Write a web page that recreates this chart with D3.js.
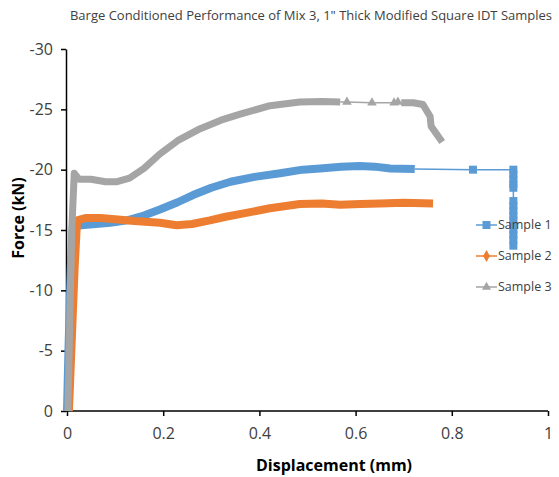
<!DOCTYPE html>
<html>
<head>
<meta charset="utf-8">
<script src="https://cdn.jsdelivr.net/npm/d3@7"></script>
<style>
	body { margin: 0; background: #fff; }
	text { font-family: "Open Sans", sans-serif; }
</style>
</head>
<body>
<div id="chart"></div>
<script>
///////////////////////////////////////////////////////////////////////////
//////////////////////////// data /////////////////////////////////////////
///////////////////////////////////////////////////////////////////////////

const title = 'Barge Conditioned Performance of Mix 3, 1" Thick Modified Square IDT Samples';
const seriesNames = ["Sample 1", "Sample 2", "Sample 3"];
const xTicks = [0, 0.2, 0.4, 0.6, 0.8, 1];
const yTicks = [0, -5, -10, -15, -20, -25, -30];

// [displacement mm, force kN]
const sample1Dense = [
	[0, 0], [0.003, -5], [0.008, -12], [0.012, -15.3], [0.03, -15.4], [0.06, -15.5],
	[0.09, -15.6], [0.125, -15.8], [0.16, -16.2], [0.193, -16.7], [0.23, -17.3],
	[0.262, -17.9], [0.3, -18.5], [0.34, -19.0], [0.39, -19.4], [0.443, -19.7],
	[0.49, -20.0], [0.526, -20.1], [0.57, -20.25], [0.609, -20.3], [0.64, -20.25],
	[0.672, -20.1], [0.723, -20.05]
];
const sample1Tail = [
	[0.723, -20.05], [0.844, -20.0], [0.928, -20.0], [0.928, -19.6], [0.928, -19.2],
	[0.928, -18.8], [0.928, -18.5], [0.928, -17.4], [0.928, -17.0], [0.928, -16.6],
	[0.928, -16.2], [0.928, -15.8], [0.928, -15.4], [0.928, -15.0], [0.928, -14.6],
	[0.928, -14.2], [0.928, -13.7]
];

const sample2Dense = [
	[0.004, 0], [0.01, -6], [0.016, -12], [0.021, -15.8], [0.04, -16.0], [0.07, -16.0],
	[0.1, -15.9], [0.14, -15.75], [0.193, -15.6], [0.228, -15.4], [0.26, -15.5],
	[0.297, -15.8], [0.33, -16.1], [0.37, -16.4], [0.422, -16.8], [0.484, -17.15],
	[0.53, -17.2], [0.568, -17.1], [0.61, -17.15], [0.651, -17.2], [0.7, -17.25],
	[0.761, -17.2]
];

const sample3Dense = [
	[0.002, 0], [0.006, -8], [0.01, -15], [0.015, -19.7], [0.025, -19.2], [0.05, -19.2],
	[0.08, -19.0], [0.104, -19.0], [0.13, -19.3], [0.16, -20.1], [0.193, -21.3],
	[0.23, -22.4], [0.277, -23.4], [0.32, -24.1], [0.36, -24.6], [0.422, -25.3],
	[0.484, -25.6], [0.53, -25.65], [0.568, -25.6]
];
const sample3Tail = [
	[0.568, -25.6], [0.582, -25.6], [0.634, -25.55], [0.68, -25.55], [0.688, -25.6],
	[0.695, -25.55]
];
const sample3Drop = [
	[0.695, -25.55], [0.72, -25.55], [0.74, -25.4], [0.755, -24.4], [0.757, -23.6],
	[0.78, -22.3]
];

///////////////////////////////////////////////////////////////////////////
//////////////////////////// drawing //////////////////////////////////////
///////////////////////////////////////////////////////////////////////////

const colors = ["#5B9BD5", "#ED7D31", "#A5A5A5"];

const dimensions = {
	width: 559,
	height: 477,
	margin: { top: 49, right: 11, bottom: 66, left: 66 }
};
dimensions.boundedWidth = dimensions.width - dimensions.margin.left - dimensions.margin.right;
dimensions.boundedHeight = dimensions.height - dimensions.margin.top - dimensions.margin.bottom;

const svg = d3.select("#chart").append("svg")
	.attr("width", dimensions.width)
	.attr("height", dimensions.height);

const bounds = svg.append("g")
	.attr("transform", `translate(${dimensions.margin.left},${dimensions.margin.top})`);

//////////////////////////// scales ///////////////////////////////////////

const xScale = d3.scaleLinear().domain([0, 1]).range([1, dimensions.boundedWidth]);
const yScale = d3.scaleLinear().domain([0, -30]).range([dimensions.boundedHeight, 0]);

const line = d3.line().x((d) => xScale(d[0])).y((d) => yScale(d[1]));

//////////////////////////// axes /////////////////////////////////////////

const xAxis = bounds.append("g")
	.attr("transform", `translate(0,${dimensions.boundedHeight})`)
	.call(d3.axisBottom(xScale).tickValues(xTicks).tickFormat((d) => String(d))
		.tickSizeInner(5).tickSizeOuter(0).tickPadding(12));

const yAxis = bounds.append("g")
	.call(d3.axisLeft(yScale).tickValues(yTicks).tickFormat((d) => String(d))
		.tickSizeInner(5).tickSizeOuter(0).tickPadding(8));

[xAxis, yAxis].forEach((ax) => {
	ax.select(".domain").attr("stroke", "#000").attr("stroke-width", 1.5);
	ax.selectAll(".tick line").attr("stroke", "#000").attr("stroke-width", 1.5);
	ax.selectAll(".tick text")
		.attr("fill", "#404040")
		.style("font-size", "16px")
		.style("font-family", "'Open Sans', sans-serif");
});
xAxis.select(".domain").attr("d", `M0,0H${dimensions.boundedWidth}`);

//////////////////////////// series ///////////////////////////////////////

const denseLine = (data, color, w) => {
	bounds.append("path")
		.datum(data)
		.attr("d", line)
		.attr("fill", "none")
		.attr("stroke", color)
		.attr("stroke-width", w)
		.attr("stroke-linejoin", "round");
};

const thinLine = (data, color) => {
	bounds.append("path")
		.datum(data)
		.attr("d", line)
		.attr("fill", "none")
		.attr("stroke", color)
		.attr("stroke-width", 1.5);
};

const markers = (data, color, type, size) => {
	bounds.append("g").selectAll("path")
		.data(data)
		.join("path")
		.attr("transform", (d) => `translate(${xScale(d[0])},${yScale(d[1])})`)
		.attr("d", d3.symbol().type(type).size(size))
		.attr("fill", color);
};

// sample 1
denseLine(sample1Dense, colors[0], 8);
thinLine(sample1Tail, colors[0]);
markers(sample1Tail.slice(1), colors[0], d3.symbolSquare, 64);

// sample 2
denseLine(sample2Dense, colors[1], 8);

// sample 3
denseLine(sample3Dense, colors[2], 7);
thinLine(sample3Tail, colors[2]);
markers(sample3Tail.slice(1, -1), colors[2], d3.symbolTriangle, 40);
denseLine(sample3Drop, colors[2], 7);

//////////////////////////// legend ///////////////////////////////////////

const legendSymbols = [d3.symbolSquare, d3.symbolDiamond, d3.symbolTriangle];
const legendSizes = [64, 40, 36];
const legend = svg.append("g").attr("transform", "translate(476,225)");

seriesNames.forEach((name, i) => {
	const g = legend.append("g").attr("transform", `translate(0,${i * 31})`);
	g.append("line")
		.attr("x1", 0).attr("x2", 21)
		.attr("stroke", colors[i]).attr("stroke-width", 1.5);
	g.append("path")
		.attr("transform", "translate(10.5,0)")
		.attr("d", d3.symbol().type(legendSymbols[i]).size(legendSizes[i]))
		.attr("fill", colors[i]);
	g.append("text")
		.attr("x", 22).attr("dy", "0.35em")
		.attr("fill", "#404040")
		.style("font-size", "12.5px")
		.text(name);
});

//////////////////////////// titles ///////////////////////////////////////

svg.append("text")
	.attr("x", 311).attr("y", 20)
	.attr("text-anchor", "middle")
	.attr("fill", "#404040")
	.style("font-size", "13px")
	.text(title);

svg.append("text")
	.attr("x", 334).attr("y", 471)
	.attr("text-anchor", "middle")
	.attr("fill", "#000")
	.style("font-size", "16px")
	.style("font-weight", "bold")
	.text("Displacement (mm)");

svg.append("text")
	.attr("transform", "translate(24,218) rotate(-90)")
	.attr("text-anchor", "middle")
	.attr("fill", "#000")
	.style("font-size", "16px")
	.style("font-weight", "bold")
	.text("Force (kN)");
</script>
</body>
</html>
